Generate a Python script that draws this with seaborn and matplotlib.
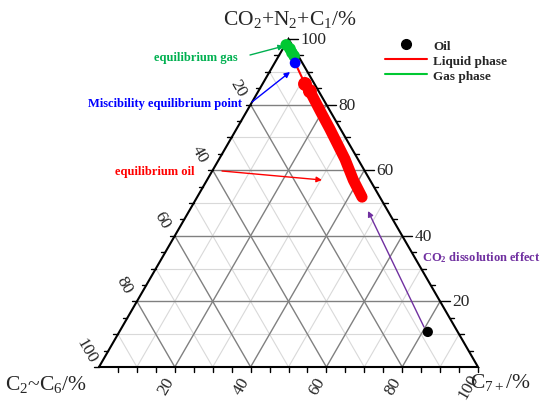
import numpy as np
import pandas as pd
import matplotlib
matplotlib.use("Agg")
import matplotlib.pyplot as plt
import seaborn as sns
from matplotlib.lines import Line2D

sns.set_style("white")
plt.rcParams['font.family'] = ['Liberation Serif', 'DejaVu Serif']
plt.rcParams['mathtext.fontset'] = 'custom'
plt.rcParams['mathtext.rm'] = 'Liberation Serif'
plt.rcParams['mathtext.it'] = 'Liberation Serif:italic'
plt.rcParams['mathtext.bf'] = 'Liberation Serif:bold'

# ---------------- data (ternary compositions, %) ----------------
# top = CO2+N2+C1, right = C7+, left = C2~C6 = 100 - top - right
oil_top = [10.7]
oil_c7 = [81.4]

liquid_top = [92.7, 86.3, 84.1, 78.0, 72.6, 63.4, 57.0, 51.8]
liquid_c7 = [5.4, 11.2, 13.6, 19.4, 24.6, 33.2, 38.6, 43.5]

gas_top = [98.2, 97.0, 95.8, 94.8]
gas_c7 = [0.3, 1.9, 3.0, 4.1]

mep_top = [92.7]
mep_c7 = [5.4]

tick_values = [20, 40, 60, 80, 100]
legend_labels = ["Oil", "Liquid phase", "Gas phase"]

H = np.sqrt(3) / 2


def tern(top, c7):
    top = np.asarray(top, float)
    c7 = np.asarray(c7, float)
    return c7 + top / 2.0, top * H


fig = plt.figure(figsize=(5.5, 4.14), dpi=100)
ax = fig.add_axes([99 / 550, 1 - 368 / 414, 379 / 550, 328 / 414])
ax.set_xlim(0, 100)
ax.set_ylim(0, 100 * H)
ax.set_axis_off()


def pix(px, py):
    return (px - 99) / 379 * 100, (368 - py) / 328 * 100 * H


# ---------------- grid ----------------
for v in range(10, 100, 10):
    col = '#808080' if v % 20 == 0 else '#d9d9d9'
    lw = 1.0 if v % 20 == 0 else 0.8
    z = 1 if v % 20 == 0 else 0.5
    xs, ys = tern([v, v], [0, 100 - v])
    ax.plot(xs, ys, color=col, lw=lw, zorder=z)
    xs, ys = tern([0, 100 - v], [v, v])
    ax.plot(xs, ys, color=col, lw=lw, zorder=z)
    xs, ys = tern([0, 100 - v], [100 - v, 0])
    ax.plot(xs, ys, color=col, lw=lw, zorder=z)

# frame
xs, ys = tern([0, 0, 100, 0], [0, 100, 0, 0])
ax.plot(xs, ys, color='black', lw=1.5, zorder=3, clip_on=False, solid_joinstyle='miter')

# ticks
tl = 1.2
for v in range(5, 101, 5):
    x0, y0 = tern(0, v)
    ax.plot([x0, x0], [y0, y0 - tl], color='black', lw=1, clip_on=False)
    x0, y0 = tern(v, 100 - v)
    L = 2.6 if v % 20 == 0 else 1.2
    ax.plot([x0, x0 + L], [y0, y0], color='black', lw=1, clip_on=False)
    x0, y0 = tern(100 - v, 0)
    ax.plot([x0, x0 - 1.2], [y0, y0], color='black', lw=1, clip_on=False)

tfs = 12.5
for v in tick_values:
    x0, y0 = tern(v, 100 - v)
    ax.text(x0 + 3.2, y0, str(v), fontsize=tfs, ha='left', va='center', clip_on=False)
    x0, y0 = tern(100 - v, 0)
    ax.text(x0 - 3.4, y0 + 4.4, str(v), fontsize=tfs, ha='center', va='center',
            rotation=-60, clip_on=False)
    x0, y0 = tern(0, v)
    ax.text(x0 - 2.4, y0 - 4.9, str(v), fontsize=tfs, ha='center', va='center',
            rotation=60, clip_on=False)

# axis titles
fig.text(290 / 550, 1 - 20 / 414, r'CO$_2$+N$_2$+C$_1$/%', fontsize=15.5, ha='center', va='center')
fig.text(5 / 550, 1 - 385 / 414, r'C$_2$~C$_6$/%', fontsize=15.5, ha='left', va='center')
fig.text(470 / 550, 1 - 383 / 414, r'C$_{7+}$/%', fontsize=15.5, ha='left', va='center')

# ---------------- data marks ----------------
lx, ly = tern(liquid_top, liquid_c7)
liq = pd.DataFrame({'x': lx, 'y': ly})
gx, gy = tern(gas_top, gas_c7)
gas = pd.DataFrame({'x': gx, 'y': gy})
ox, oy = tern(oil_top, oil_c7)
mx, my = tern(mep_top, mep_c7)

ax.plot(lx[:2], ly[:2], color='#ff0000', lw=1.5, zorder=4)
sns.lineplot(data=liq.iloc[1:], x='x', y='y', color='#ff0000', lw=8, sort=False,
             solid_capstyle='round', ax=ax, zorder=4)
sns.scatterplot(x=lx[1:3], y=ly[1:3], color='#ff0000', s=100, edgecolor='none', ax=ax, zorder=4)
sns.lineplot(data=gas, x='x', y='y', color='#00c832', lw=6, sort=False,
             solid_capstyle='round', ax=ax, zorder=4)
sns.scatterplot(x=gx, y=gy, color='#00c832', s=70, edgecolor='none', ax=ax, zorder=4)
sns.scatterplot(x=mx, y=my, color='#0000ff', s=60, edgecolor='none', ax=ax, zorder=5)
sns.scatterplot(x=ox, y=oy, color='black', s=55, edgecolor='none', ax=ax, zorder=5)

# ---------------- annotations ----------------
afs = 9


def ann(text, tx, ty, hx, hy, tip, col, ha='center'):
    ax.text(*pix(tx, ty), text, color=col, fontsize=afs, fontweight='bold',
            ha=ha, va='center', clip_on=False)
    ax.annotate('', xy=pix(*tip), xytext=pix(hx, hy),
                arrowprops=dict(arrowstyle='-|>', color=col, lw=1, mutation_scale=8,
                                shrinkA=0, shrinkB=0), annotation_clip=False)


ann('equilibrium gas', 196, 58, 250, 56, (284, 47), '#00b050')
ann('Miscibility equilibrium point', 165, 104, 252, 103, (290, 73), '#0000ff')
ann('equilibrium oil', 155, 172, 222, 172, (322, 181), '#ff0000')
ann(r'CO$_\mathbf{2}$ dissolution effect', 422, 258, 424, 328, (368, 212), '#7030a0', ha='left')

# ---------------- legend ----------------
handles = [
    Line2D([], [], color='black', marker='o', ls='none', markersize=7),
    Line2D([], [], color='#ff0000', lw=1.5),
    Line2D([], [], color='#00c832', lw=1.5),
]
leg = fig.legend(handles, legend_labels, loc='upper left', bbox_to_anchor=(378 / 550, 1 - 34 / 414),
                 frameon=False, prop={'weight': 'bold', 'size': 9.5}, handlelength=3.2,
                 labelspacing=0.2, handletextpad=0.5, borderpad=0)

fig.savefig('out.png', dpi=100)
